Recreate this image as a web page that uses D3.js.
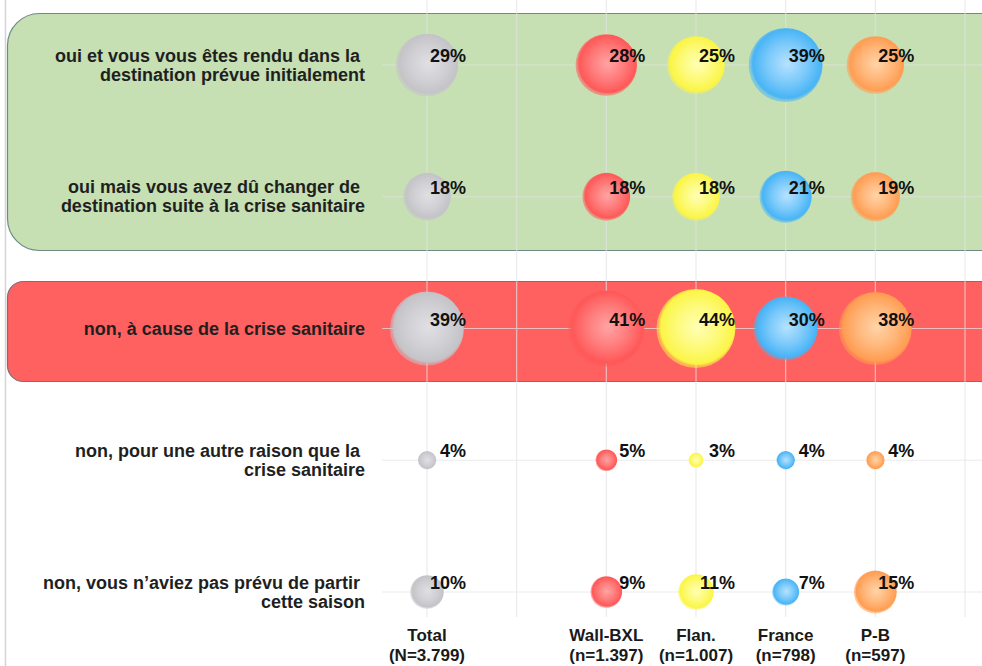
<!DOCTYPE html>
<html>
<head>
<meta charset="utf-8">
<script src="https://cdn.jsdelivr.net/npm/d3@7.9.0/dist/d3.min.js"></script>
<style>
  html, body { margin: 0; padding: 0; background: #fff; }
  svg { display: block; font-family: "Liberation Sans", Arial, sans-serif; font-weight: bold; }
</style>
</head>
<body>
<svg width="982" height="666"></svg>
<script>
// answers (rows), groups (columns) and the % for each group
const answers = [
  'oui et vous vous êtes rendu dans la \ndestination prévue initialement',
  'oui mais vous avez dû changer de \ndestination suite à la crise sanitaire',
  'non, à cause de la crise sanitaire',
  'non, pour une autre raison que la \ncrise sanitaire',
  'non, vous n\u2019aviez pas prévu de partir \ncette saison'
];
const groups = ['Total', 'Wall-BXL', 'Flan.', 'France', 'P-B'];
const groupN = ['(N=3.799)', '(n=1.397)', '(n=1.007)', '(n=798)', '(n=597)'];
const groupSlot = [0, 2, 3, 4, 5]; // column 1 and 6 stay empty

const total = [29, 18, 39, 4, 10];
const wallBxl = [28, 18, 41, 5, 9];
const flan = [25, 18, 44, 3, 11];
const france = [39, 21, 30, 4, 7];
const pb = [25, 19, 38, 4, 15];

const series = [total, wallBxl, flan, france, pb];

// bubble colours: [centre, edge]
const colors = [
  ['#e0e0e4', '#c4c4c8'],
  ['#ffa4a4', '#ff5858'],
  ['#ffffb4', '#fbf546'],
  ['#b6e2ff', '#48b4f6'],
  ['#ffd4a8', '#ff9d52']
];

const svg = d3.select('svg');
const W = 982, H = 666;

const x = d3.scaleLinear().domain([0, 6]).range([427, 965]);
const y = d3.scalePoint().domain(d3.range(answers.length)).range([65, 592]);
const r = d3.scaleSqrt().domain([3, 44]).range([7.5, 39.5]);

// gradients
const defs = svg.append('defs');
colors.forEach((c, i) => {
  let g = defs.append('radialGradient').attr('id', 'bub' + i)
    .attr('cx', '52%').attr('cy', '48%').attr('r', '50%');
  g.append('stop').attr('offset', '0%').attr('stop-color', c[0]);
  g.append('stop').attr('offset', '55%').attr('stop-color', d3.interpolateRgb(c[0], c[1])(0.55));
  g.append('stop').attr('offset', '93%').attr('stop-color', c[1]);
  g.append('stop').attr('offset', '100%').attr('stop-color', c[1]).attr('stop-opacity', 0.55);
});

// left frame line
svg.append('line')
  .attr('x1', 5.5).attr('x2', 5.5).attr('y1', 0).attr('y2', H)
  .attr('stroke', '#d4d4d4').attr('stroke-width', 1.5);

// highlight boxes (right side runs off the picture)
function leftRoundedBox(x0, y0, y1, rad) {
  let p = d3.path();
  p.moveTo(W + 10, y0);
  p.lineTo(x0 + rad, y0);
  p.arcTo(x0, y0, x0, y0 + rad, rad);
  p.lineTo(x0, y1 - rad);
  p.arcTo(x0, y1, x0 + rad, y1, rad);
  p.lineTo(W + 10, y1);
  return p.toString();
}
svg.append('path')
  .attr('d', leftRoundedBox(7.5, 13.5, 250.5, 32))
  .attr('fill', '#c6e0b4').attr('stroke', '#6f8a86').attr('stroke-width', 1.2);
svg.append('path')
  .attr('d', leftRoundedBox(7.5, 281.5, 381.5, 16))
  .attr('fill', '#ff6060').attr('stroke', '#8c6870').attr('stroke-width', 1.2);

// grid
const grid = svg.append('g').attr('stroke', '#e3e3e3').attr('stroke-width', 1.2).attr('opacity', 0.7);
d3.range(7).forEach(k => {
  grid.append('line')
    .attr('x1', x(k)).attr('x2', x(k)).attr('y1', 0).attr('y2', 617);
});
answers.forEach((a, i) => {
  grid.append('line')
    .attr('x1', 382).attr('x2', W).attr('y1', y(i)).attr('y2', y(i));
});

// row labels
answers.forEach((a, i) => {
  let lines = a.split('\n');
  let t = svg.append('text')
    .attr('text-anchor', 'end')
    .attr('font-size', 18)
    .attr('fill', '#1f1f1f')
    .attr('xml:space', 'preserve')
    .attr('y', y(i) + 6 - (lines.length - 1) * 9.5);
  lines.forEach((l, j) => {
    t.append('tspan').attr('x', 365).attr('dy', j === 0 ? 0 : 19).text(l);
  });
});

// bubbles and values (values end at a fixed offset right of the column)
series.forEach((vals, gi) => {
  let g = svg.append('g');
  g.selectAll('circle')
    .data(vals)
    .join('circle')
    .attr('cx', x(groupSlot[gi]))
    .attr('cy', (d, i) => y(i))
    .attr('r', d => r(d))
    .attr('fill', `url(#bub${gi})`);
  g.selectAll('text')
    .data(vals)
    .join('text')
    .attr('text-anchor', 'end')
    .attr('x', x(groupSlot[gi]) + 39)
    .attr('y', (d, i) => y(i) - 3)
    .attr('font-size', 18)
    .attr('fill', '#111')
    .text(d => d + '%');
});

// column labels
groups.forEach((gname, gi) => {
  let t = svg.append('text')
    .attr('text-anchor', 'middle')
    .attr('font-size', 17)
    .attr('fill', '#1a1a1a')
    .attr('y', 641);
  t.append('tspan').attr('x', x(groupSlot[gi])).text(gname);
  t.append('tspan').attr('x', x(groupSlot[gi])).attr('dy', 20).text(groupN[gi]);
});
</script>
</body>
</html>
